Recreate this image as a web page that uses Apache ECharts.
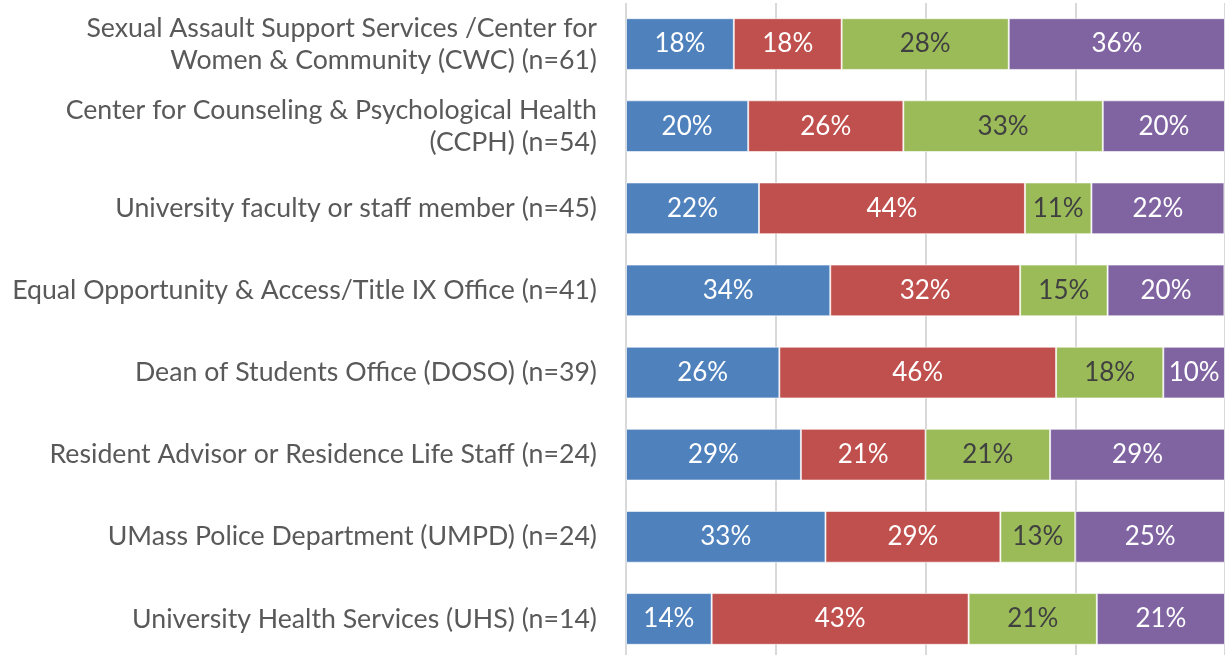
<!DOCTYPE html>
<html><head><meta charset="utf-8">
<script src="https://cdn.jsdelivr.net/npm/echarts@6/dist/echarts.min.js"></script>
<style>html,body{margin:0;padding:0;background:#fff;overflow:hidden}#c{width:1225px;height:660px}</style>
</head><body><div id="c"></div>
<script>
const categories = [
  "Sexual Assault Support Services /Center for\nWomen & Community (CWC) (n=61)",
  "Center for Counseling & Psychological Health\n(CCPH) (n=54)",
  "University faculty or staff member (n=45)",
  "Equal Opportunity & Access/Title IX Office (n=41)",
  "Dean of Students Office (DOSO) (n=39)",
  "Resident Advisor or Residence Life Staff (n=24)",
  "UMass Police Department (UMPD) (n=24)",
  "University Health Services (UHS) (n=14)"
];
const seriesBlue   = [18.0, 20.4, 22.2, 34.1, 25.6, 29.2, 33.3, 14.3];
const seriesRed    = [18.0, 25.9, 44.4, 31.7, 46.2, 20.8, 29.2, 42.9];
const seriesGreen  = [27.9, 33.3, 11.1, 14.6, 17.9, 20.8, 12.5, 21.4];
const seriesPurple = [36.1, 20.4, 22.2, 19.5, 10.3, 29.2, 25.0, 21.4];
const xTicks = [0, 25, 50, 75, 100];

const FONT = 'Lato';
function mk(name, data, color, labelColor) {
  return {
    name, type: 'bar', stack: 'total', data,
    barCategoryGap: '37%',
    itemStyle: { color, borderColor: 'rgba(255,255,255,0.6)', borderWidth: 1 },
    label: {
      show: true, position: 'inside', color: labelColor,
      fontFamily: FONT, fontSize: 26,
      formatter: p => Math.round(p.value) + '%'
    }
  };
}
const chart = echarts.init(document.getElementById('c'));
chart.setOption({
  animation: false,
  grid: { left: 626, right: -1, top: 3, bottom: 0, containLabel: false },
  xAxis: {
    type: 'value', min: xTicks[0], max: xTicks[xTicks.length - 1], interval: 25,
    axisLabel: { show: false }, axisLine: { show: false }, axisTick: { show: false },
    splitLine: { show: true, lineStyle: { color: '#d9d9d9', width: 2 } }
  },
  yAxis: {
    type: 'category', data: categories, inverse: true,
    axisLine: { show: false }, axisTick: { show: false },
    axisLabel: {
      margin: 29, color: '#595959', fontFamily: FONT, fontSize: 26.7,
      lineHeight: 32, align: 'right'
    }
  },
  series: [
    mk('a', seriesBlue, '#4F81BD', '#ffffff'),
    mk('b', seriesRed, '#C0504D', '#ffffff'),
    mk('c', seriesGreen, '#9BBB59', '#404040'),
    mk('d', seriesPurple, '#8064A2', '#ffffff')
  ]
});
</script></body></html>
